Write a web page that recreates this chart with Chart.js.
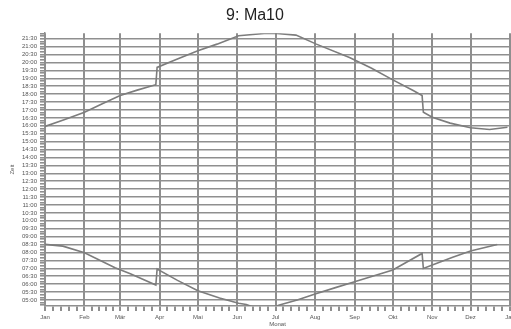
<!DOCTYPE html>
<html>
<head>
<meta charset="utf-8">
<script src="https://cdn.jsdelivr.net/npm/chart.js@4/dist/chart.umd.min.js"></script>
<style>
  html, body { margin: 0; padding: 0; background: #fff; }
  #wrap { width: 511px; height: 329px; }
</style>
</head>
<body>
<div id="wrap"><canvas id="chart"></canvas></div>
<script>
// Monate (Tag im Jahr, an dem der Monat beginnt)
const monthLabels = ['Jan', 'Feb', 'Mär', 'Apr', 'Mai', 'Jun', 'Jul', 'Aug', 'Sep', 'Okt', 'Nov', 'Dez', 'Jan'];
const monthStarts = [0, 31, 59, 90, 120, 151, 181, 212, 243, 273, 304, 334, 365];

// Sonnenuntergang (Stunden, dezimal) – zwei Punkte am selben Tag bei Zeitumstellung
const sunsetDays = [0, 15, 31, 45, 59, 73, 87, 88, 102, 120, 135, 152, 172, 182, 197, 213, 239, 256, 273, 289, 296, 297, 304, 318, 334, 349, 363];
const sunsetTimes = [15.96, 16.38, 16.86, 17.40, 17.91, 18.27, 18.60, 19.69, 20.16, 20.74, 21.16, 21.69, 21.83, 21.83, 21.73, 21.16, 20.32, 19.65, 18.90, 18.23, 17.91, 16.86, 16.54, 16.17, 15.88, 15.77, 15.91];

// Sonnenaufgang
const sunriseDays = [0, 14, 31, 55, 67, 87, 88, 104, 120, 137, 152, 158, 165, 178, 184, 198, 212, 228, 243, 273, 296, 297, 304, 320, 334, 355];
const sunriseTimes = [8.51, 8.40, 7.98, 7.04, 6.66, 5.95, 6.95, 6.24, 5.59, 5.13, 4.79, 4.72, 4.50, 4.50, 4.69, 5.00, 5.38, 5.78, 6.15, 6.89, 7.94, 6.99, 7.21, 7.70, 8.10, 8.51];

const yMin = 4.62;
const yMax = 21.85;

const gridGray = '#8f8f8f';
const lineGray = '#7d7d7d';

function toPoints(days, times) {
  return days.map((d, i) => ({ x: d, y: times[i] }));
}

function formatTime(value) {
  const mins = Math.round(value * 60);
  const h = Math.floor(mins / 60);
  const m = mins % 60;
  return String(h).padStart(2, '0') + ':' + String(m).padStart(2, '0');
}

function isMonthStart(v) {
  return monthStarts.indexOf(Math.round(v * 1000) / 1000) !== -1;
}

function isHalfHour(v) {
  return Math.round(v * 60) % 30 === 0;
}

const ctx = document.getElementById('chart').getContext('2d');
new Chart(ctx, {
  type: 'line',
  data: {
    datasets: [{
      label: 'Sonnenuntergang',
      data: toPoints(sunsetDays, sunsetTimes),
      borderColor: lineGray,
      borderWidth: 1.6,
      pointRadius: 0,
      tension: 0
    }, {
      label: 'Sonnenaufgang',
      data: toPoints(sunriseDays, sunriseTimes),
      borderColor: lineGray,
      borderWidth: 1.6,
      pointRadius: 0,
      tension: 0
    }]
  },
  options: {
    responsive: true,
    maintainAspectRatio: false,
    animation: false,
    layout: { padding: { left: 0, right: 1, top: 0, bottom: 0 } },
    plugins: {
      legend: { display: false },
      tooltip: { enabled: false },
      title: {
        display: true,
        text: '9: Ma10',
        color: '#222',
        font: { family: 'Liberation Sans', size: 16, weight: 'normal' },
        padding: { top: 6, bottom: 8 }
      }
    },
    scales: {
      x: {
        type: 'linear',
        min: 0,
        max: 365,
        afterBuildTicks(scale) {
          const ticks = [];
          for (let i = 0; i < 12; i++) {
            const start = monthStarts[i];
            const len = monthStarts[i + 1] - start;
            ticks.push({ value: start });
            for (let k = 1; k < 5; k++) {
              ticks.push({ value: start + k * len / 5 });
            }
          }
          ticks.push({ value: 365 });
          scale.ticks = ticks;
        },
        afterFit(scale) {
          scale.height = 23;
          scale.paddingLeft = 0;
          scale.paddingRight = 0;
        },
        border: { color: gridGray, width: 1.5 },
        grid: {
          color: c => (c.tick && isMonthStart(c.tick.value)) ? gridGray : 'rgba(0,0,0,0)',
          tickColor: gridGray,
          lineWidth: 2,
          tickLength: 5
        },
        ticks: {
          autoSkip: false,
          maxRotation: 0,
          padding: 3,
          color: '#555',
          font: { family: 'Liberation Sans', size: 6 },
          callback(value) {
            const idx = monthStarts.indexOf(Math.round(value * 1000) / 1000);
            return idx === -1 ? '' : monthLabels[idx];
          }
        },
        title: {
          display: true,
          text: 'Monat',
          color: '#555',
          font: { family: 'Liberation Sans', size: 6 },
          padding: { top: 0, bottom: 1 }
        }
      },
      y: {
        type: 'linear',
        min: yMin,
        max: yMax,
        afterBuildTicks(scale) {
          const ticks = [];
          for (let m = 280; m <= 1310; m += 10) {
            ticks.push({ value: m / 60 });
          }
          scale.ticks = ticks;
        },
        afterFit(scale) {
          scale.width = 45;
        },
        border: { color: gridGray, width: 1.5 },
        grid: {
          color: c => (c.tick && isHalfHour(c.tick.value)) ? gridGray : 'rgba(0,0,0,0)',
          tickColor: gridGray,
          lineWidth: 1.6,
          tickLength: 5
        },
        ticks: {
          autoSkip: false,
          padding: 3,
          color: '#555',
          font: { family: 'Liberation Sans', size: 6 },
          callback(value) {
            return (isHalfHour(value) && value >= 5) ? formatTime(value) : '';
          }
        },
        title: {
          display: true,
          text: 'Zeit',
          color: '#555',
          font: { family: 'Liberation Sans', size: 6 },
          padding: { top: 9, bottom: 0 }
        }
      }
    }
  }
});
</script>
</body>
</html>
